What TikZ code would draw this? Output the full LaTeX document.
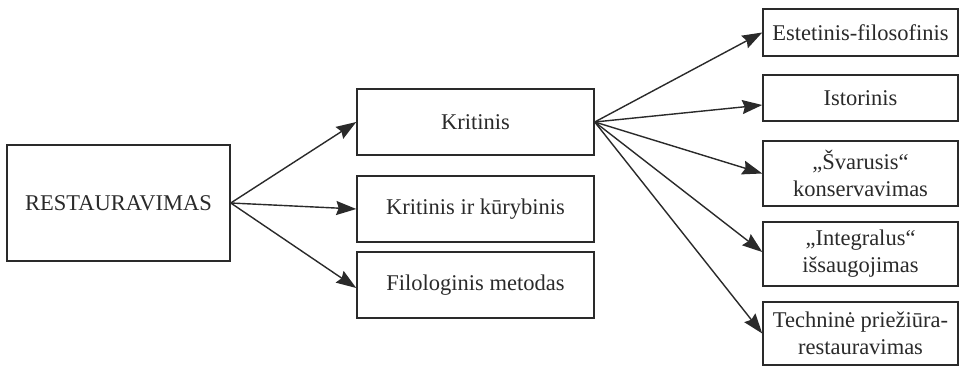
\documentclass[tikz,border=0pt]{standalone}
\usepackage{fontspec}
\setmainfont{Liberation Serif}
\usetikzlibrary{arrows.meta}
\definecolor{ink}{HTML}{2A2A2A}
\tikzset{
  box/.style={draw=ink, line width=1.5pt, rectangle, inner sep=0pt, align=center,
    text=ink, font=\fontsize{22.5}{27}\selectfont},
  conn/.style={draw=ink, line width=1.4pt, -{Stealth[length=20pt,width=14pt,inset=2.5pt]}}
}
\begin{document}
\begin{tikzpicture}[x=1pt,y=-1pt]
\useasboundingbox[fill=white] (0,0) rectangle (959,366);
\node[box, minimum width=223pt, minimum height=116pt] (rest) at (118.5,203) {RESTAURAVIMAS};
\node[box, minimum width=237pt, minimum height=66pt] (krit) at (475.5,122) {Kritinis};
\node[box, minimum width=237pt, minimum height=66pt] (kk) at (475.5,209) {Kritinis ir kūrybinis};
\node[box, minimum width=237pt, minimum height=66pt] (filo) at (475.5,285) {Filologinis metodas};
\node[box, minimum width=195pt, minimum height=47pt] (est) at (860.5,32.5) {Estetinis-filosofinis};
\node[box, minimum width=195pt, minimum height=46pt] (ist) at (860.5,98) {Istorinis};
\node[box, minimum width=195pt, minimum height=65pt] (sva) at (860.5,173.5) {„Švarusis“\\konservavimas};
\node[box, minimum width=195pt, minimum height=64pt] (int) at (860.5,254) {„Integralus“\\išsaugojimas};
\node[box, minimum width=195pt, minimum height=63pt] (tech) at (860.5,333.5) {Techninė priežiūra-\\restauravimas};
\draw[conn] (rest.east) -- (krit.west);
\draw[conn] (rest.east) -- (kk.west);
\draw[conn] (rest.east) -- ([yshift=-3pt]filo.west);
\draw[conn] (krit.east) -- (est.west);
\draw[conn] (krit.east) -- ([yshift=-7pt]ist.west);
\draw[conn] (krit.east) -- (sva.west);
\draw[conn] (krit.east) -- ([yshift=2pt]int.west);
\draw[conn] (krit.east) -- (tech.west);
\end{tikzpicture}
\end{document}
